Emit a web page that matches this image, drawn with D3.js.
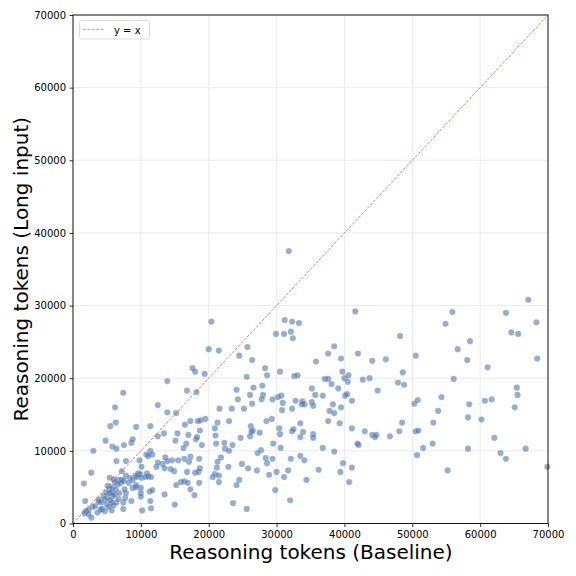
<!DOCTYPE html>
<html><head><meta charset="utf-8">
<script src="https://cdn.jsdelivr.net/npm/d3@7/dist/d3.min.js"></script>
<style>body{margin:0;background:#fff;} svg{display:block;font-family:"DejaVu Sans",sans-serif;}</style>
</head><body><svg id="c" width="576" height="576"></svg>
<script>
const xTicks = [0,10000,20000,30000,40000,50000,60000,70000];
const yTicks = [0,10000,20000,30000,40000,50000,60000,70000];
const xLabel = "Reasoning tokens (Baseline)";
const yLabel = "Reasoning tokens (Long input)";
const legendLabel = "y = x";
// baseline tokens, long-input tokens
const points = [
[13900,19600],[7400,18000],[6200,16000],[12500,16300],[16800,18300],[18200,18100],[13900,15300],[15200,15200],
[5500,13400],[6300,13900],[9300,13300],[11400,13400],[13400,12400],[15400,12400],[16500,13600],[17300,14100],
[18400,14100],[12500,12000],[17000,12200],[17600,21400],[18000,20900],[18800,14200],
[4800,11400],[5800,10600],[6400,10300],[7500,10800],[8600,11100],[8800,11600],[3000,10000],[10800,9500],
[11400,10000],[11700,9500],[11100,9300],
[15100,11400],[18100,11600],[18300,11900],[16700,11000],[16300,10400],[12300,7800],[13200,8200],[13600,9100],
[13900,8600],[14600,8700],[15500,8700],[16400,8900],[17100,8500],[17300,9200],[18600,8900],[13500,7600],
[14400,7500],[14900,7200],[15900,5700],[15200,5300],[16400,5800],[16900,5600],[16800,7100],[18000,7000],
[18500,7100],[18700,7600],[18600,5600],[13500,4000],[15000,2600],[17300,4700],[17900,3900],
[6400,8600],[7800,8600],[9800,8700],[12500,8400],[10100,7800],[7200,7200],[7800,6600],[10900,6900],
[5400,6300],[6000,6100],[6800,6000],[7200,6000],[7500,5900],[7100,5600],[8400,6300],[9200,6600],
[9600,6900],[9900,6800],[9400,6400],[10100,6300],[8800,6000],[9300,5300],[10700,6400],[11100,6500],
[11500,6400],[5100,5200],[5400,4800],[5700,4300],[5900,3800],[5100,3600],[5500,3200],[5700,2900],
[6400,2900],[6100,4000],[5400,4200],[3800,3300],[4200,2900],[3800,3000],[4700,3300],[5000,2600],
[4300,2000],[4700,1700],[4100,1900],[7700,3500],[8600,3100],[7400,2900],[6800,4200],[7800,4200],
[8800,4900],[9300,5000],[10000,4900],[10000,4200],[10000,3700],[11300,4400],[11700,4600],[11400,3100],
[11500,2100],[1800,3100],[1900,1700],[2300,1900],[1700,1400],[2300,1300],[2700,800],[5700,1800],
[7400,2000],[10200,1800],[2700,7000],[1600,5500],
[6200,5700],[6600,5400],[5800,5000],[6300,4700],[4500,3800],[4900,4300],[5300,2300],[6000,2500],
[3300,2400],[3600,1500],[2900,2300],[6700,3400],[8200,5600],[7600,4700],
[20400,27800],[41600,29200],[31200,28000],[32300,27800],[33300,27600],[29900,26100],[31100,26100],[32100,26400],
[32400,25500],[20000,24000],[21500,23800],[25700,24300],[24500,23100],[26400,22500],[19400,20600],[28300,21400],
[28600,20400],[30500,20900],[25600,20200],[32600,20300],[33100,20400],[35800,22300],[37600,23400],[38500,24400],
[39500,22700],[42000,23400],[44100,22400],[39700,20900],[40600,20400],[40000,20000],[40500,19500],[37100,19900],
[37600,19900],[38100,19200],[39100,18600],[42700,19800],[43700,20000],[44900,18300],[24100,18400],[26600,18700],
[27900,19000],[26100,17700],[28000,17700],[27800,17100],[24300,17100],[26400,16500],[29400,17100],[30200,17400],
[30700,17600],[30900,16600],[32800,16900],[33700,16400],[34100,16400],[33800,16800],[32300,15800],[30800,15600],
[35200,18600],[35700,17700],[36800,17600],[35200,16700],[35400,16200],[37800,15500],[38300,16400],[38500,15200],
[39500,16000],[40100,17600],[40400,17800],[41100,16900],[21600,15800],[23400,15800],[25200,15800],[19500,14400],
[21300,13900],[23000,14100],[20900,13100],[21000,12100],[18700,12800],[19000,10800],[21100,11000],[22300,11100],
[22400,10300],[23000,10000],[23500,10800],[24700,11800],[26200,13400],[26500,12800],[26100,12000],[26300,12600],
[27500,12500],[28500,14100],[29300,14400],[30400,13100],[30500,12300],[29500,11000],[30600,10400],[32300,12700],
[32500,13000],[33500,13800],[33500,11900],[33900,12600],[35400,12300],[35400,11800],[36800,10400],[37600,14100],
[38500,9900],[39300,13800],[41100,13100],[42100,10800],[41900,11000],[43000,12700],[44100,12200],[44500,11900],
[44700,12200],[21800,9100],[21300,8500],[21200,7700],[20600,6400],[20900,6800],[21500,6600],[21500,5700],
[22900,7800],[24900,8200],[25800,7600],[27100,7300],[27200,9700],[27700,10100],[28400,9000],[28600,8300],
[29400,8900],[28900,6700],[30000,7100],[31100,6400],[31700,7300],[32100,8900],[33500,9300],[34100,8700],
[36200,7400],[39800,8300],[39400,7100],[41100,7700],[40700,5700],[34400,6000],[24500,6000],[24100,5300],
[29800,4600],[23600,2800],[25600,2000],[32000,3200],[31800,37500],
[67100,30800],[55900,29100],[63800,29000],[68300,27700],[54900,27500],[48200,25800],[64600,26300],[65600,26100],
[58500,25100],[56700,24000],[50500,23100],[46100,22600],[58100,22500],[68400,22700],[61100,21500],[48600,20800],
[47900,19400],[48800,19100],[56100,19900],[65400,18700],[65500,17700],[50800,17000],[50300,16500],[54300,17400],
[58400,16400],[60700,16900],[61700,17100],[65100,16000],[53800,15500],[48500,13900],[53100,13900],[58200,14600],
[60200,14300],[46700,12000],[48100,12700],[50500,12700],[50900,12800],[51600,10400],[50700,9400],[53000,11000],
[58200,10300],[62100,11800],[63000,9700],[63800,8900],[66700,10300],[55200,7300],[69900,7800]
];

const svg = d3.select("#c");
const L = 73, T = 15, R = 548, B = 523.5;
const x = d3.scaleLinear().domain([0,70000]).range([L,R]);
const y = d3.scaleLinear().domain([0,70000]).range([B,T]);

// grid
const g = svg.append("g");
g.selectAll(".gx").data(xTicks).join("line")
  .attr("x1",d=>x(d)).attr("x2",d=>x(d)).attr("y1",T).attr("y2",B)
  .attr("stroke","#e6e6e6").attr("stroke-width",0.8);
g.selectAll(".gy").data(yTicks).join("line")
  .attr("y1",d=>y(d)).attr("y2",d=>y(d)).attr("x1",L).attr("x2",R)
  .attr("stroke","#e6e6e6").attr("stroke-width",0.8);

// points
svg.append("g").selectAll("circle").data(points).join("circle")
  .attr("cx",d=>x(d[0])).attr("cy",d=>y(d[1])).attr("r",3.1)
  .attr("fill","#4a72ab").attr("fill-opacity",0.58)
  .attr("stroke","#ffffff").attr("stroke-opacity",0.35).attr("stroke-width",0.4);

// diagonal
svg.append("line")
  .attr("x1",x(0)).attr("y1",y(0)).attr("x2",x(70000)).attr("y2",y(70000))
  .attr("stroke","#e8503e").attr("stroke-opacity",0.8).attr("stroke-width",0.9)
  .attr("stroke-dasharray","3,1.4");

// axes
const xa = svg.append("g").attr("transform",`translate(0,${B})`)
  .call(d3.axisBottom(x).tickValues(xTicks).tickFormat(d3.format("d")).tickSize(3.5).tickPadding(3.5));
const ya = svg.append("g").attr("transform",`translate(${L},0)`)
  .call(d3.axisLeft(y).tickValues(yTicks).tickFormat(d3.format("d")).tickSize(3.5).tickPadding(3.5));
[xa,ya].forEach(a=>{
  a.select(".domain").remove();
  a.selectAll("text").attr("font-size",10).attr("fill","#000").attr("font-family","DejaVu Sans");
  a.selectAll("line").attr("stroke","#000").attr("stroke-width",0.8);
});

// frame
svg.append("rect").attr("x",L).attr("y",T).attr("width",R-L).attr("height",B-T)
  .attr("fill","none").attr("stroke","#000").attr("stroke-width",0.9);

// labels
svg.append("text").attr("x",(L+R)/2 + 0.5).attr("y",559).attr("text-anchor","middle")
  .attr("font-size",20).text(xLabel);
svg.append("text").attr("transform",`translate(28,${(T+B)/2}) rotate(-90)`).attr("text-anchor","middle")
  .attr("font-size",20).text(yLabel);

// legend
const lg = svg.append("g");
lg.append("rect").attr("x",79.5).attr("y",20.5).attr("width",70).attr("height",18.5).attr("rx",2)
  .attr("fill","#fff").attr("fill-opacity",0.8).attr("stroke","#d6d6d6").attr("stroke-width",0.8);
lg.append("line").attr("x1",83).attr("x2",105).attr("y1",29.5).attr("y2",29.5)
  .attr("stroke","#f08070").attr("stroke-opacity",0.8).attr("stroke-width",1).attr("stroke-dasharray","3,1.4");
lg.append("text").attr("x",114).attr("y",33.5).attr("font-size",10).text(legendLabel);
</script></body></html>
